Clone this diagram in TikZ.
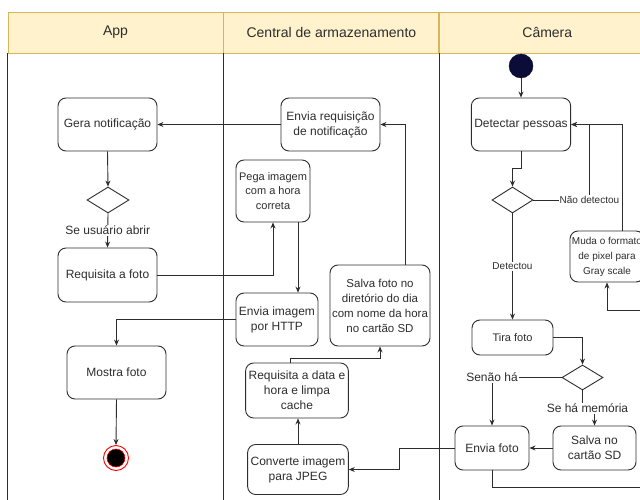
\documentclass[tikz,border=0pt]{standalone}
\usepackage{fontspec}
\setmainfont{Liberation Sans}
\usepackage{xcolor}
\definecolor{headFill}{RGB}{255, 242, 204}
\definecolor{headLine}{RGB}{214, 182, 86}
\definecolor{darkGray}{RGB}{45, 45, 45}
\definecolor{startNavy}{RGB}{12, 12, 56}
\definecolor{endRed}{RGB}{255, 0, 0}
\usetikzlibrary{shapes.geometric, arrows.meta, positioning, calc}
\tikzset{
    base/.style={draw=darkGray, line width=0.9pt, text=darkGray, align=center},
    act/.style={base, rounded corners=8pt, inner sep=3pt, font=\fontsize{12}{15}\selectfont},
    smallAct/.style={act, font=\fontsize{11}{14.5}\selectfont},
    choice/.style={diamond, draw=darkGray, line width=0.9pt, fill=white, inner sep=0pt, minimum width=42pt, minimum height=26pt},
    head/.style={draw=headLine, fill=headFill, line width=0.9pt, minimum width=215pt, minimum height=41pt, font=\fontsize{14}{16}\selectfont, text=darkGray},
    lane/.style={draw=darkGray, line width=0.9pt},
    arrow/.style={-{Stealth[length=6pt, width=5pt]}, line width=0.9pt, draw=darkGray},
    lbl/.style={fill=white, inner sep=1pt, text=darkGray, font=\fontsize{12}{14}\selectfont},
    smallLbl/.style={lbl, font=\fontsize{10}{12}\selectfont}
}

\begin{document}
\begin{tikzpicture}[x=1pt, y=-1pt]
    \useasboundingbox (0,0) rectangle (640,500);
    \clip (0,0) rectangle (640,500);

    % --- LANES ---
    \node[head] (hApp) at (115.5,32.5) {App};
    \node[head, right=0pt of hApp] (hCentral) {Central de armazenamento};
    \node[head, right=0pt of hCentral] (hCam) {Câmera};
    \draw[lane] (hApp.south west) -- ++(0,460);
    \draw[lane] (hCentral.south west) -- ++(0,460);
    \draw[lane] (hCam.south west) -- ++(0,460);

    % --- APP ---
    \node[act, minimum width=99pt, minimum height=53pt] (gera) at (107.5,124.5) {Gera notificação};
    \node[choice] (decApp) at (108,200) {};
    \node[act, minimum width=99pt, minimum height=54pt] (reqFoto) at (107.5,275) {Requisita a foto};
    \node[act, minimum width=99pt, minimum height=53pt] (mostra) at (116.5,372.5) {Mostra foto};
    \node[circle, draw=endRed, fill=white, line width=0.9pt, minimum size=25pt, inner sep=0pt] (endApp) at (116,458) {};
    \node[circle, draw=endRed, fill=black, line width=0.6pt, minimum size=18pt, inner sep=0pt] (endDot) at (endApp) {};

    % --- CENTRAL DE ARMAZENAMENTO ---
    \node[act, minimum width=99pt, minimum height=53pt] (envReq) at (330.5,124.5) {Envia requisição\\ de notificação};
    \node[smallAct, minimum width=74pt, minimum height=62pt] (pega) at (273,191) {Pega imagem\\ com a hora\\ correta};
    \node[act, minimum width=82pt, minimum height=53pt] (envHttp) at (277,319.5) {Envia imagem\\ por HTTP};
    \node[act, minimum width=100pt, minimum height=81pt, inner sep=1pt, font=\fontsize{11.5}{15}\selectfont] (salvaDir) at (380,305.5) {Salva foto no\\ diretório do dia\\ com nome da hora\\ no cartão SD};
    \node[act, minimum width=99pt, minimum height=55pt] (reqData) at (297,390.5) {Requisita a data e\\ hora e limpa\\ cache};
    \node[act, minimum width=100pt, minimum height=50pt] (conv) at (298,469.5) {Converte imagem\\ para JPEG};

    % --- CAMERA ---
    \node[circle, draw=startNavy, fill=startNavy, minimum size=24pt, inner sep=0pt] (start) at (521,66) {};
    \node[act, minimum width=98pt, minimum height=53pt] (detect) at (521,124.5) {Detectar pessoas};
    \node[choice, minimum width=41pt] (decCam) at (512.5,200) {};
    \node[smallAct, minimum width=74pt, inner sep=2pt, minimum height=51pt, font=\fontsize{10}{15}\selectfont] (muda) at (607,256.5) {Muda o formato\\ de pixel para\\ Gray scale};
    \node[smallAct, minimum width=81pt, minimum height=35pt] (tira) at (512.5,337.5) {Tira foto};
    \node[choice, minimum width=41pt, minimum height=25pt] (decMem) at (582.5,377.5) {};
    \node[act, minimum width=74pt, minimum height=44pt] (envFoto) at (492,448) {Envia foto};
    \node[act, minimum width=83pt, minimum height=44pt] (salvaSd) at (594.5,448) {Salva no\\ cartão SD};

    % exit points off the main boxes' centres
    \coordinate (pegaOut) at ($(pega.south)+(25,0)$);
    \coordinate (dataOut) at ($(reqData.north)+(-7,0)$);
    \coordinate (dirOut) at ($(salvaDir.north)+(25,0)$);
    \coordinate (mudaOut) at ($(muda.north)+(15,0)$);
    % loop back, leaves the picture on the right
    \coordinate (outLow) at (665,487);
    \coordinate (outHigh) at (665,310);

    % --- CONNECTIONS ---
    \draw[arrow] (start.south) -- (detect.north);
    \draw[arrow] (detect.south) -- ++(0,17) -| (decCam.north);
    \draw[arrow] (decCam.east) -- ++(56,0) node[smallLbl] {Não detectou} |- (detect.east);
    \draw[arrow] (mudaOut) |- (detect.east);
    \draw[arrow] (decCam.south) -- node[smallLbl] {Detectou} (tira.north);
    \draw[arrow] (tira.east) -| (decMem.north);
    \draw[arrow] (decMem.west) -| node[lbl, pos=0.5] {Senão há} (envFoto.north);
    \draw[arrow] (decMem.south) -- ++(0,18) node[lbl, xshift=5pt] {Se há memória} -| (salvaSd.north);
    \draw[arrow] (salvaSd.west) -- (envFoto.east);
    \draw[arrow] (envFoto.west) -- ++(-55,0) |- (conv.east);
    \draw[arrow] (envFoto.south) |- (outLow) -- (outHigh) -| (muda.south);

    \draw[arrow] (conv.north) -- (conv.north |- reqData.south);
    \draw[arrow] (dataOut) -- ++(0,-4) -| (salvaDir.south);
    \draw[arrow] (dirOut) |- (envReq.east);
    \draw[arrow] (envReq.west) -- (gera.east);

    \draw[arrow] (gera.south) -- (decApp.north);
    \draw[arrow] (decApp.south) -- node[lbl] {Se usuário abrir} (reqFoto.north);
    \draw[arrow] (reqFoto.east) -| (pega.south);
    \draw[arrow] (pegaOut) -- (pegaOut |- envHttp.north);
    \draw[arrow] (envHttp.west) -| (mostra.north);
    \draw[arrow] (mostra.south) -- (endApp.north);

\end{tikzpicture}
\end{document}
